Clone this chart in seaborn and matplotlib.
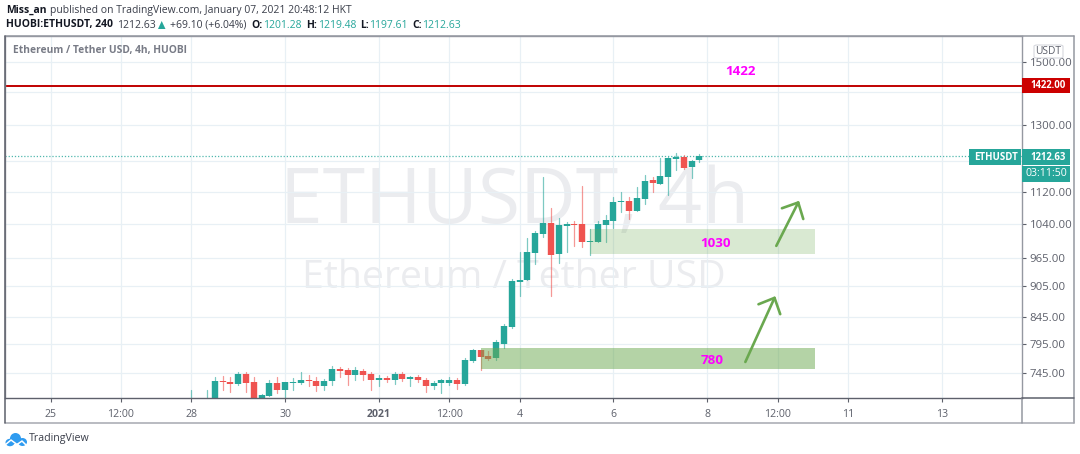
import matplotlib
matplotlib.use('Agg')
import matplotlib.pyplot as plt
import matplotlib.dates as mdates
from matplotlib.patches import Rectangle, Ellipse, FancyBboxPatch
from matplotlib.lines import Line2D
import numpy as np
import pandas as pd
import seaborn as sns

# 4h candles, first one opens 2020-12-28 00:00 HKT
bar_start = '2020-12-28'
opens = [690.2, 690.2, 690.2, 695.4, 731.2, 729.6, 726.3, 742.9, 728.5, 695.4, 707.0, 728.0, 716.6, 726.9, 728.0, 732.3, 730.7, 722.0, 730.2, 750.7, 749.6, 740.1, 747.9, 742.9, 733.4, 736.2, 732.9, 742.3, 734.5, 736.8, 732.3, 722.0, 726.9, 727.4, 732.3, 725.8, 765.5, 783.0, 773.0, 769.5, 794.8, 826.4, 913.9, 918.0, 976.3, 1019.0, 1043.8, 973.4, 1037.5, 1041.4, 1040.7, 999.3, 1000.1, 1039.1, 1049.3, 1094.3, 1097.6, 1073.2, 1102.6, 1149.1, 1140.5, 1158.6, 1206.5, 1212.0, 1183.2, 1201.28]
highs = [716.6, 700.6, 716.6, 737.3, 739.5, 737.3, 745.1, 745.1, 738.4, 710.1, 732.9, 737.3, 729.6, 735.1, 745.1, 741.2, 737.3, 734.0, 756.4, 754.1, 753.0, 754.1, 751.8, 745.1, 740.6, 739.5, 745.1, 745.1, 739.5, 741.2, 735.7, 730.2, 734.0, 737.3, 736.2, 769.5, 785.3, 784.1, 781.2, 802.0, 831.4, 919.4, 977.1, 1008.4, 1025.9, 1158.6, 1078.8, 1054.8, 1046.1, 1047.7, 1134.5, 1029.0, 1048.5, 1062.8, 1105.9, 1118.4, 1107.6, 1131.1, 1163.0, 1156.9, 1207.4, 1212.0, 1222.9, 1217.4, 1202.9, 1219.48]
lows = [687.6, 687.6, 687.6, 692.8, 716.6, 712.3, 724.1, 712.3, 692.8, 692.8, 705.9, 711.2, 701.7, 716.6, 726.3, 722.0, 713.9, 716.6, 724.7, 738.4, 724.7, 732.9, 732.9, 716.6, 722.0, 728.5, 726.3, 730.7, 722.0, 728.5, 712.3, 718.7, 711.2, 724.7, 718.7, 724.7, 762.1, 749.6, 766.7, 766.7, 787.1, 823.3, 886.2, 916.7, 951.7, 1012.1, 885.5, 953.1, 977.1, 991.1, 989.6, 971.9, 1000.1, 998.6, 1032.9, 1070.8, 1054.0, 1071.6, 1088.6, 1118.4, 1140.5, 1111.7, 1176.1, 1177.9, 1156.0, 1197.61]
closes = [695.4, 695.4, 698.0, 730.7, 728.5, 726.3, 741.8, 727.4, 695.4, 707.5, 728.0, 716.6, 728.5, 729.6, 732.3, 730.2, 722.0, 731.2, 750.7, 747.9, 740.1, 748.5, 741.2, 732.9, 736.2, 732.9, 742.3, 734.5, 736.8, 731.8, 722.0, 726.9, 731.8, 732.3, 725.8, 766.7, 783.0, 771.3, 768.4, 797.8, 827.7, 916.0, 918.7, 977.1, 1020.5, 1043.8, 971.2, 1038.3, 1040.7, 1039.1, 998.6, 1001.6, 1040.7, 1050.1, 1095.2, 1097.6, 1073.2, 1104.2, 1148.2, 1141.3, 1160.3, 1207.4, 1211.1, 1182.3, 1199.3, 1212.63]

price_ticks = [1500, 1400, 1300, 1200, 1120, 1040, 965, 905, 845, 795, 745]
price_tick_labels = ['1500.00', '', '1300.00', '', '1120.00', '1040.00', '965.00', '905.00', '845.00', '795.00', '745.00']
time_ticks = ['2020-12-25', '2020-12-26 12:00', '2020-12-28', '2020-12-30', '2021-01-01', '2021-01-02 12:00',
              '2021-01-04', '2021-01-06', '2021-01-08', '2021-01-09 12:00', '2021-01-11', '2021-01-13']
time_tick_labels = ['25', '12:00', '28', '30', '2021', '12:00', '4', '6', '8', '12:00', '11', '13']

resistance = 1422.0
last_price = 1212.63

# drawn zones and arrows
zone_names = ['1030', '780']
zone_lows = [973, 751]
zone_highs = [1030, 788]
zone_starts = ['2021-01-05 12:00', '2021-01-03 04:00']
zone_end = '2021-01-10 07:00'
arrow_tails = [('2021-01-08 19:30', 763), ('2021-01-09 11:20', 991)]
arrow_tips = [('2021-01-09 10:50', 885), ('2021-01-09 23:00', 1097)]

GREEN = '#26a69a'
RED = '#ef5350'
GRID = '#e8f0f5'
AXIS_TEXT = '#5d606b'
DRAWING = '#6aa84f'
MAGENTA = '#ff00ff'
WATERMARK = '#ebecef'
FONT = 'Open Sans'

sns.set_theme(style='white', rc={'axes.grid': False})
plt.rcParams['font.family'] = [FONT, 'DejaVu Sans']

W, H = 1080, 454
fig = plt.figure(figsize=(W / 100, H / 100), dpi=100, facecolor='white')

# plot area in pixels of the picture
ax = fig.add_axes([5 / W, 1 - 398 / H, (1022 - 5) / W, (398 - 36) / H])
ax.set_yscale('log')
ax.set_facecolor('white')


def px_text(x, y, s, **kw):
    kw.setdefault('va', 'center')
    kw.setdefault('ha', 'left')
    return fig.text(x / W, 1 - y / H, s, **kw)


def num(t):
    return mdates.date2num(pd.Timestamp(t))


times = mdates.date2num(pd.date_range(bar_start, periods=len(opens), freq='4h'))
candles = pd.DataFrame({'t': times, 'o': opens, 'h': highs, 'l': lows, 'c': closes})
candles['bar'] = range(len(candles))
candles['dir'] = np.where(candles['c'] >= candles['o'], 'up', 'down')
palette = {'up': GREEN, 'down': RED}

wicks = candles.melt(id_vars=['bar', 't', 'dir'], value_vars=['h', 'l'], value_name='price')
bodies = candles.melt(id_vars=['bar', 't', 'dir'], value_vars=['o', 'c'], value_name='price')

x0 = num('2020-12-25')
ax.set_xlim(x0 - 0.97, x0 + 20.71)
ax.set_ylim(703.5, 1590)

ax.set_xticks([num(t) for t in time_ticks])
ax.set_xticklabels(time_tick_labels)
ax.set_yticks(price_ticks)
ax.set_yticklabels(price_tick_labels)
ax.minorticks_off()
ax.yaxis.tick_right()
ax.tick_params(axis='y', length=3, width=0.8, color=AXIS_TEXT, labelsize=8.2, labelcolor=AXIS_TEXT, pad=2.5, right=True)
ax.tick_params(axis='x', length=3, width=0.8, color=AXIS_TEXT, labelsize=7.6, labelcolor=AXIS_TEXT, pad=5, bottom=True)
ax.get_xticklabels()[4].set_fontweight('bold')
ax.grid(True, color=GRID, lw=0.9, zorder=0)
ax.set_axisbelow(True)

sns.lineplot(data=wicks, x='t', y='price', hue='dir', units='bar', estimator=None, palette=palette,
             legend=False, lw=0.9, alpha=0.6, ax=ax, zorder=2)
sns.lineplot(data=bodies, x='t', y='price', hue='dir', units='bar', estimator=None, palette=palette,
             legend=False, lw=4.6, solid_capstyle='butt', ax=ax, zorder=2.2)
ax.set_xlabel('')
ax.set_ylabel('')

# resistance and last price
ax.axhline(resistance, color='#c00000', lw=1.4, zorder=2.5)
ax.axhline(last_price, color=GREEN, lw=0.9, ls=(0, (1, 1.5)), alpha=0.8, zorder=1.5)

# zones sit over the candles
for start, lo, hi, a in zip(zone_starts, zone_lows, zone_highs, [0.25, 0.5]):
    ax.fill_between([num(start), num(zone_end)], lo, hi, color=DRAWING, alpha=a, lw=0, zorder=3)

for tail, tip in zip(arrow_tails, arrow_tips):
    ax.annotate('', xy=(num(tip[0]), tip[1]), xytext=(num(tail[0]), tail[1]), zorder=4,
                arrowprops=dict(arrowstyle='->,head_length=0.45,head_width=0.43', color=DRAWING, lw=1.9,
                                mutation_scale=20, shrinkA=0, shrinkB=0))

ax.text(num('2021-01-08 17:00'), 1466.6, '1422', color=MAGENTA, fontsize=9.6, fontweight='bold',
        ha='center', va='center', zorder=4)
ax.text(num('2021-01-08 04:00'), 995.6, zone_names[0], color=MAGENTA, fontsize=9.6, fontweight='bold',
        ha='center', va='center', zorder=4)
ax.text(num('2021-01-08 02:30'), 765, zone_names[1], color=MAGENTA, fontsize=9.6, fontweight='bold',
        ha='center', va='center', zorder=4)

for spine in ['top', 'left', 'right']:
    ax.spines[spine].set_color('#9598a1')
    ax.spines[spine].set_linewidth(1.0)
ax.spines['bottom'].set_color(AXIS_TEXT)
ax.spines['bottom'].set_linewidth(1.0)

# watermark behind the candles
wm = dict(color=WATERMARK, ha='center', va='baseline', zorder=0.5, transform=fig.transFigure)
ax.text(515 / W, 1 - 223 / H, 'ETHUSDT, 4h', fontsize=55.4, **wm)
ax.text(514 / W, 1 - 288 / H, 'Ethereum / Tether USD', fontsize=28.3, **wm)

# outer frame around chart, price scale and time scale
for xs, ys, c in [([5, 1074], [36, 36], '#9598a1'), ([1074, 1074], [36, 423], '#9598a1'),
                  ([5, 1074], [423, 423], '#a6a8b0'), ([5, 5], [36, 423], AXIS_TEXT),
                  ([1022, 1022], [398, 423], '#9598a1'), ([1022, 1074], [398, 398], AXIS_TEXT)]:
    fig.add_artist(Line2D([x / W for x in xs], [1 - y / H for y in ys], color=c, lw=1.1))


def px_box(x0, y0, x1, y1, color):
    fig.add_artist(Rectangle((x0 / W, 1 - y1 / H), (x1 - x0) / W, (y1 - y0) / H, transform=fig.transFigure,
                             facecolor=color, edgecolor='none'))


# scale tags
px_box(1022, 78, 1070, 93, '#cc0000')
px_text(1030, 86, '1422.00', color='white', fontsize=6.9, fontweight='bold')
px_box(969, 149, 1021, 165, GREEN)
px_text(996, 157, 'ETHUSDT', color='white', fontsize=6.9, fontweight='bold', ha='center')
px_box(1022, 149, 1070, 165, GREEN)
px_text(1030, 157, '1212.63', color='white', fontsize=6.9, fontweight='bold')
px_box(1022, 166, 1070, 182, GREEN)
px_text(1046, 174, '03:11:50', color='white', fontsize=7.6, ha='center')

usdt = FancyBboxPatch((1034 / W, 1 - 58 / H), 29 / W, 13 / H, transform=fig.transFigure,
                      boxstyle='round,pad=0,rounding_size=0.003', facecolor='white', edgecolor='#d6d8de', lw=0.8)
fig.add_artist(usdt)
px_text(1048.5, 51, 'USDT', color=AXIS_TEXT, fontsize=7.4, ha='center')

# header lines
HEAD = '#131722'
px_text(6, 10, 'Miss_an', color=HEAD, fontsize=7.45, fontweight='bold')
px_text(49.5, 10, 'published on TradingView.com, January 07, 2021 20:48:12 HKT', color='#3a3e4a', fontsize=7.45)
px_text(6, 25, 'HUOBI:ETHUSDT, 240', color=HEAD, fontsize=7.45, fontweight='bold')
px_text(117, 25, '1212.63', color='#3a3e4a', fontsize=7.45)
fig.add_artist(plt.Polygon([(158 / W, 1 - 29 / H), (165.5 / W, 1 - 29 / H), (161.7 / W, 1 - 21 / H)],
                           transform=fig.transFigure, facecolor=GREEN, edgecolor='none'))
px_text(170, 25, '+69.10 (+6.04%)', color='#3a3e4a', fontsize=7.45)
for x_lab, lab, x_val, val in [(251, 'O:', 263.5, '1201.28'), (306, 'H:', 318, '1219.48'),
                               (360, 'L:', 369.5, '1197.61'), (412, 'C:', 422, '1212.63')]:
    px_text(x_lab, 25, lab, color=HEAD, fontsize=7.45, fontweight='bold')
    px_text(x_val, 25, val, color=GREEN, fontsize=7.45)
px_text(13, 51, 'Ethereum / Tether USD, 4h, HUOBI', color='#787b86', fontsize=7.35, fontweight='bold')

# logo
LOGO = '#2e9bf0'
for cx, cy, ew, eh in [(10, 442.5, 9, 7.5), (15.5, 438.5, 11, 11), (22.5, 442, 9, 8)]:
    fig.add_artist(Ellipse((cx / W, 1 - cy / H), ew / W, eh / H, transform=fig.transFigure, facecolor=LOGO,
                           edgecolor='none'))
fig.add_artist(Line2D([5 / W, 11 / W, 17 / W, 22 / W, 27 / W], [1 - y / H for y in [445, 440, 444.5, 441, 446]],
                      color='white', lw=1.1))
px_text(29, 438.5, 'TradingView', color='#3a3e4a', fontsize=7.7)

fig.savefig('out.png', dpi=100, facecolor='white')
